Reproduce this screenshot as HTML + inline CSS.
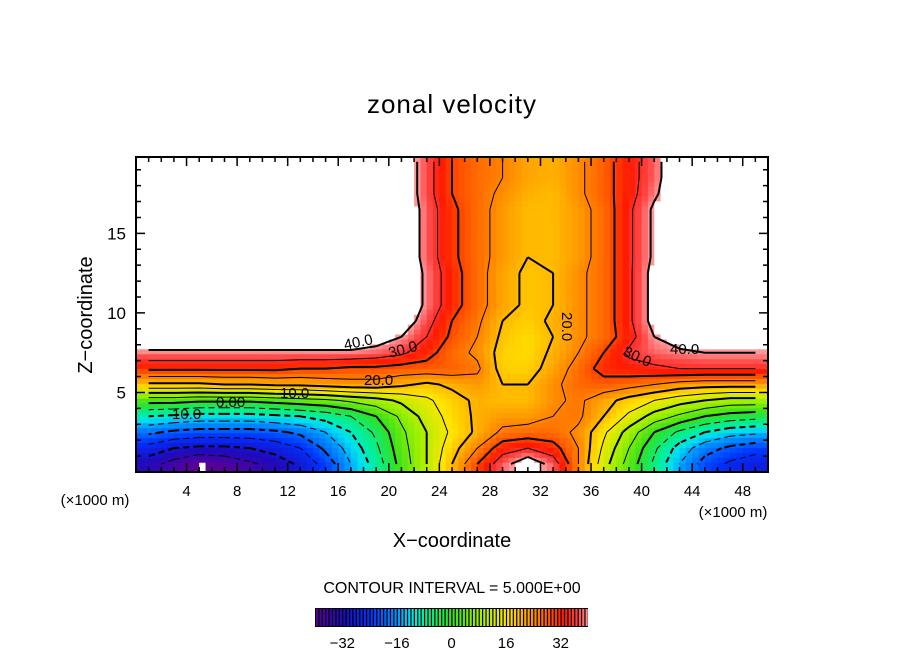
<!DOCTYPE html>
<html><head><meta charset="utf-8"><style>
body{margin:0;background:#fff;}
svg text{font-family:"Liberation Sans",sans-serif;fill:#000;}
</style></head><body>
<svg id="chart" width="904" height="654" viewBox="0 0 904 654" xmlns="http://www.w3.org/2000/svg">
<rect width="904" height="654" fill="#fff"/>
<text x="452" y="113" font-size="26" text-anchor="middle" letter-spacing="1">zonal velocity</text>
<g id="field"></g>
<g id="lines"></g>
<g id="labels" font-size="15">
<text x="345" y="350" transform="rotate(-12 345 350)">40.0</text>
<text x="390" y="358" transform="rotate(-15 390 358)">30.0</text>
<text x="364" y="385">20.0</text>
<text x="280" y="398">10.0</text>
<text x="216" y="407">0.00</text>
<text x="172" y="419">10.0</text>
<text x="562" y="312" transform="rotate(90 562 312)">20.0</text>
<text x="622" y="355" transform="rotate(25 622 355)">30.0</text>
<text x="670" y="354">40.0</text>
</g>
<rect x="136" y="157" width="632" height="315" fill="none" stroke="#000" stroke-width="2"/>
<g id="ticks"></g>
<text x="92" y="315" font-size="20" text-anchor="middle" transform="rotate(-90 92 315)">Z−coordinate</text>
<text x="452" y="547" font-size="20" text-anchor="middle">X−coordinate</text>
<text x="95" y="505" font-size="15" text-anchor="middle">(×1000 m)</text>
<text x="733" y="517" font-size="15" text-anchor="middle">(×1000 m)</text>
<text x="452" y="593" font-size="16" text-anchor="middle">CONTOUR INTERVAL = 5.000E+00</text>
<g id="cbar"></g>
</svg>
<script>
const xCenters=[1,3,5,7,9,11,13,15,17,19,21,23,25,27,29,31,33,35,37,39,41,43,45,47,49];
const zCenters=[19.5,18.5,17.5,16.5,15.5,14.5,13.5,12.5,11.5,10.5,9.5,8.5,7.5,6.5,5.5,4.5,3.5,2.5,1.5,0.5];
const W=45;
const u=[
[W,W,W,W,W,W,W,W,W,W,W,37,30,27,25,22,21,24,28,33,38,W,W,W,W],
[W,W,W,W,W,W,W,W,W,W,W,37,30,27,25,22,21,24,28,33,38,W,W,W,W],
[W,W,W,W,W,W,W,W,W,W,W,37,30,27,24,21,20,24,28,33,39,W,W,W,W],
[W,W,W,W,W,W,W,W,W,W,W,38,31,27,23,20,20,23,27,34,41,W,W,W,W],
[W,W,W,W,W,W,W,W,W,W,W,38,31,27,23,20,20,23,27,34,41,W,W,W,W],
[W,W,W,W,W,W,W,W,W,W,W,38,31,27,23,20,20,23,27,34,41,W,W,W,W],
[W,W,W,W,W,W,W,W,W,W,W,38,31,27,23,20,20,23,27,34,41,W,W,W,W],
[W,W,W,W,W,W,W,W,W,W,W,39,32,27,22,19,20,24,27,34,42,W,W,W,W],
[W,W,W,W,W,W,W,W,W,W,W,39,32,27,22,19,20,24,27,34,42,W,W,W,W],
[W,W,W,W,W,W,W,W,W,W,W,39,32,27,22,19,20,24,27,34,42,W,W,W,W],
[W,W,W,W,W,W,W,W,W,W,44,37,30,26,20,18,21,24,27,34,42,W,W,W,W],
[W,W,W,W,W,W,W,W,W,43,40,35,29,25,19,17,20,24,27,33,40,43,W,W,W],
[39,39,39,39,39,39,39,39,39,38,36,32,27,24,18,17,21,25,30,36,38,39,40,40,40],
[31,31,31,31,31,31,30,30,29,29,28,28,28,26,18,18,22,27,32,33,34,35,35,35,35],
[19,19,19,20,20,21,21,22,23,23,21,19,21,23,20,20,24,27,28,27,25,23,22,22,22],
[2,2,1,1,1,2,3,4,6,8,11,14,18,21,20,20,24,26,22,18,15,12,10,8,8],
[-10,-11,-12,-12,-12,-11,-10,-8,-5,0,6,12,17,21,23,23,25,26,20,14,8,4,0,-2,-3],
[-19,-21,-22,-22,-22,-21,-19,-15,-10,-4,4,10,16,21,26,27,27,24,16,8,0,-6,-10,-13,-14],
[-27,-30,-31,-31,-30,-28,-25,-19,-13,-6,3,10,18,25,33,35,32,25,14,5,-4,-12,-18,-21,-23],
[-33,-37,-41,-39,-36,-33,-29,-23,-15,-8,2,10,20,30,38,44,38,25,12,3,-6,-15,-22,-26,-28]
];
const cbTicks=[-32,-16,0,16,32];
const xTicks=[4,8,12,16,20,24,28,32,36,40,44,48];
const zTicks=[5,10,15];

const X0=136,X1=768,Y0=472,Y1=157;
const sx=v=>X0+(v/50)*(X1-X0);
const sz=v=>Y0-(v/19.8)*(Y0-Y1);
const NS='http://www.w3.org/2000/svg';
function mk(t,a){const e=document.createElementNS(NS,t);for(const k in a)e.setAttribute(k,a[k]);return e;}
const stops=[[-40,[90,0,150]],[-32,[30,10,190]],[-24,[0,50,255]],[-16,[0,150,255]],[-12,[0,225,240]],[-8,[0,240,160]],[0,[50,225,30]],[8,[160,240,0]],[16,[255,230,0]],[22,[255,165,0]],[28,[255,95,0]],[33,[255,25,0]],[37,[255,70,70]],[40,[255,150,150]]];
function color(v){
 if(v>40.5||v<-40.5)return '#ffffff';
 v=Math.max(-40,Math.min(40,v));
 for(let i=0;i<stops.length-1;i++){const a=stops[i],b=stops[i+1];
  if(v<=b[0]){const t=(v-a[0])/(b[0]-a[0]);const c=a[1].map((q,j)=>Math.round(q+(b[1][j]-q)*t));return `rgb(${c[0]},${c[1]},${c[2]})`;}}
 return 'rgb(255,150,150)';
}
const field=document.getElementById('field');
function val(x,z){
 const fx=(x-1)/2, fz=(19.5-z);
 let i=Math.floor(fx), j=Math.floor(fz);
 i=Math.max(0,Math.min(xCenters.length-2,i)); j=Math.max(0,Math.min(zCenters.length-2,j));
 const tx=Math.max(0,Math.min(1,fx-i)), tz=Math.max(0,Math.min(1,fz-j));
 return u[j][i]*(1-tx)*(1-tz)+u[j][i+1]*tx*(1-tz)+u[j+1][i]*(1-tx)*tz+u[j+1][i+1]*tx*tz;
}
const STEP=0.5;
for(let z=0;z<19.8;z+=STEP*0.62){
 for(let x=0;x<50;x+=STEP){
  const r=mk('rect',{x:sx(x),y:sz(z+STEP*0.62),width:sx(x+STEP)-sx(x)+0.6,height:sz(z)-sz(z+STEP*0.62)+0.6,fill:color(val(x+STEP/2,z+STEP*0.31))});
  
  
  field.appendChild(r);
 }
}
const lines=document.getElementById('lines');
for(let lev=-35;lev<=40;lev+=5){
 let d='';
 for(let j=0;j<zCenters.length-1;j++)for(let i=0;i<xCenters.length-1;i++){
  const c=[[xCenters[i],zCenters[j],u[j][i]],[xCenters[i+1],zCenters[j],u[j][i+1]],[xCenters[i+1],zCenters[j+1],u[j+1][i+1]],[xCenters[i],zCenters[j+1],u[j+1][i]]];
  const pts=[];
  for(let k=0;k<4;k++){const a=c[k],b=c[(k+1)%4];
   if((a[2]<lev)!==(b[2]<lev)){const t=(lev-a[2])/(b[2]-a[2]);pts.push([sx(a[0]+(b[0]-a[0])*t),sz(a[1]+(b[1]-a[1])*t)]);}}
  for(let k=0;k+1<pts.length;k+=2)d+=`M${pts[k][0].toFixed(1)},${pts[k][1].toFixed(1)}L${pts[k+1][0].toFixed(1)},${pts[k+1][1].toFixed(1)}`;
 }
 if(!d)continue;
 const p=mk('path',{d:d,fill:'none',stroke:'#000','stroke-width':lev%10===0?2:1});
 if(lev<0)p.setAttribute('stroke-dasharray','6,4');
 
 
 lines.appendChild(p);
}
const tk=document.getElementById('ticks');
let td='';
for(let x=1;x<50;x++){const L=x%4===0?9:5;td+=`M${sx(x)},${Y0}v${-L}M${sx(x)},${Y1}v${L}`;}
for(let z=1;z<20;z++){const L=z%5===0?9:5;td+=`M${X0},${sz(z)}h${L}M${X1},${sz(z)}h${-L}`;}
tk.appendChild(mk('path',{d:td,stroke:'#000','stroke-width':1.5,fill:'none'}));
xTicks.forEach(v=>{const t=mk('text',{x:sx(v),y:496,'font-size':15,'text-anchor':'middle'});t.textContent=v;
 
 
 tk.appendChild(t);});
zTicks.forEach(v=>{const t=mk('text',{x:126,y:sz(v)+6,'font-size':17,'text-anchor':'end'});t.textContent=v;
 
 
 tk.appendChild(t);});
const cb=document.getElementById('cbar');
const CB0=315,CB1=588,cbv=v=>CB0+(v+40)/80*(CB1-CB0);
cb.appendChild(mk('rect',{x:CB0,y:608,width:CB1-CB0,height:19,fill:'#000'}));
for(let v=-40;v<40;v+=1){
 const r=mk('rect',{x:cbv(v)+1,y:609,width:(CB1-CB0)/80-1.2,height:17,fill:color(v+0.5)});
 
 
 cb.appendChild(r);
}
cbTicks.forEach(v=>{const t=mk('text',{x:cbv(v),y:648,'font-size':15,'text-anchor':'middle'});t.textContent=v<0?'−'+(-v):v;
 
 
 cb.appendChild(t);});
</script>
</body></html>
